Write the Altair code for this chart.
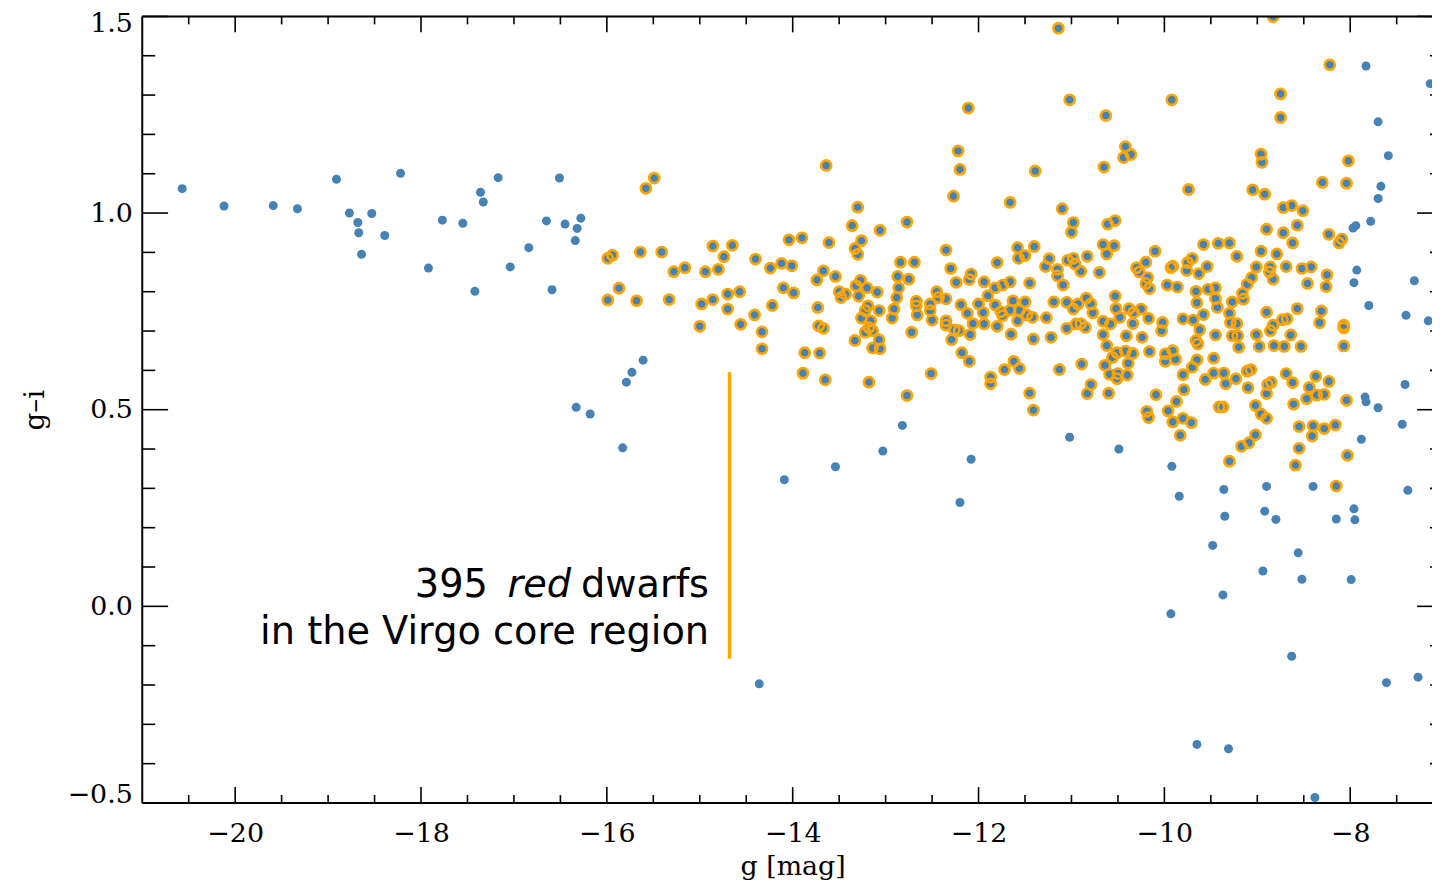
import altair as alt
import pandas as pd

# ---------------- data ----------------
# galaxies that are not red dwarfs (g [mag], g-i)
BLUE_ONLY = [
    (-20.57, 1.062), (-20.12, 1.018), (-19.59, 1.019), (-19.33, 1.011), (-18.91, 1.086),
    (-18.22, 1.101), (-18.77, 1.000), (-18.68, 0.976), (-18.67, 0.950), (-18.53, 0.999),
    (-18.39, 0.943), (-18.64, 0.895), (-17.92, 0.860), (-17.77, 0.982), (-17.55, 0.974),
    (-17.36, 1.053), (-17.33, 1.028), (-17.17, 1.090), (-17.42, 0.801), (-17.04, 0.863),
    (-16.84, 0.912), (-16.65, 0.980), (-16.45, 0.972), (-16.51, 1.089), (-16.28, 0.987),
    (-16.32, 0.961), (-16.34, 0.930), (-16.59, 0.805), (-16.33, 0.506), (-16.18, 0.489),
    (-15.61, 0.626), (-15.73, 0.595), (-15.79, 0.570), (-15.83, 0.403), (-14.09, 0.322),
    (-13.54, 0.355), (-14.36, -0.197), (-13.03, 0.395), (-12.82, 0.460), (-12.08, 0.374),
    (-12.20, 0.264), (-11.02, 0.430), (-10.49, 0.400), (-9.92, 0.356), (-9.84, 0.280),
    (-9.36, 0.297), (-9.35, 0.229), (-8.90, 0.305), (-8.92, 0.242), (-8.80, 0.221),
    (-8.40, 0.305), (-8.15, 0.222), (-7.96, 0.248), (-7.95, 0.220), (-7.38, 0.295),
    (-7.88, 0.425), (-7.44, 0.463), (-7.41, 0.564), (-7.84, 0.532), (-7.83, 0.520),
    (-7.70, 0.505), (-7.93, 0.855), (-7.96, 0.823), (-7.31, 0.828), (-7.80, 0.765),
    (-7.40, 0.740), (-7.16, 0.726), (-7.97, 0.962), (-7.94, 0.968), (-7.78, 0.979),
    (-7.70, 1.037), (-7.67, 1.068), (-7.59, 1.146), (-7.70, 1.232), (-7.83, 1.374),
    (-7.14, 1.329), (-9.48, 0.155), (-8.56, 0.136), (-8.94, 0.090), (-8.52, 0.069),
    (-7.99, 0.068), (-9.37, 0.029), (-9.93, -0.019), (-8.63, -0.127), (-7.61, -0.194),
    (-7.27, -0.180), (-9.65, -0.351), (-9.31, -0.362), (-8.38, -0.486),
]

# red dwarfs in the Virgo core region (g [mag], g-i)
RED_DWARFS = [
    (-15.49, 1.089), (-15.58, 1.063), (-13.64, 1.121), (-13.30, 1.015), (-13.36, 0.968),
    (-15.99, 0.885), (-15.94, 0.893), (-15.64, 0.901), (-15.41, 0.901), (-14.86, 0.916),
    (-14.65, 0.918), (-14.74, 0.889), (-14.04, 0.932), (-13.90, 0.937), (-13.61, 0.925),
    (-13.26, 0.930), (-13.33, 0.910), (-13.30, 0.895), (-14.40, 0.883), (-15.28, 0.851),
    (-15.16, 0.861), (-14.94, 0.851), (-14.80, 0.857), (-14.24, 0.860), (-14.12, 0.872),
    (-14.01, 0.866), (-13.67, 0.853), (-13.74, 0.830), (-13.54, 0.839), (-15.87, 0.809),
    (-15.99, 0.779), (-15.68, 0.777), (-15.33, 0.780), (-14.98, 0.769), (-14.86, 0.780),
    (-14.70, 0.794), (-14.57, 0.800), (-14.70, 0.756), (-14.41, 0.741), (-14.22, 0.765),
    (-14.10, 0.810), (-13.99, 0.797), (-15.00, 0.712), (-14.56, 0.717), (-14.33, 0.698),
    (-13.73, 0.760), (-13.72, 0.713), (-13.67, 0.707), (-13.50, 0.800), (-13.43, 0.794),
    (-13.48, 0.785), (-13.27, 0.829), (-13.32, 0.815), (-13.20, 0.810), (-13.29, 0.789),
    (-13.19, 0.764), (-13.22, 0.752), (-13.26, 0.733), (-13.16, 0.726), (-13.18, 0.709),
    (-13.22, 0.697), (-13.14, 0.701),
    (-12.22, 1.158), (-12.20, 1.111), (-12.27, 1.043), (-11.39, 1.107), (-11.66, 1.027),
    (-10.65, 1.117), (-10.42, 1.169), (-10.36, 1.149), (-10.44, 1.141), (-11.10, 1.011),
    (-10.98, 0.976), (-11.00, 0.951), (-10.61, 0.972), (-10.53, 0.981), (-12.77, 0.977),
    (-13.06, 0.956), (-12.35, 0.906), (-11.58, 0.912), (-11.40, 0.915), (-11.57, 0.885),
    (-11.50, 0.892), (-10.66, 0.920), (-10.54, 0.917), (-10.62, 0.896), (-10.10, 0.903),
    (-12.84, 0.875), (-12.69, 0.875), (-11.80, 0.874), (-12.30, 0.859), (-11.24, 0.884),
    (-11.28, 0.864), (-11.15, 0.857), (-11.04, 0.880), (-10.98, 0.885), (-10.96, 0.870),
    (-10.90, 0.852), (-10.83, 0.890), (-10.70, 0.849), (-10.20, 0.875), (-10.30, 0.861),
    (-10.27, 0.850), (-12.87, 0.839), (-12.75, 0.832), (-12.86, 0.810), (-12.08, 0.845),
    (-12.10, 0.831), (-12.24, 0.824), (-11.94, 0.825), (-11.82, 0.810), (-11.74, 0.817),
    (-11.66, 0.825), (-11.45, 0.822), (-11.15, 0.840), (-11.09, 0.817), (-10.18, 0.836),
    (-10.20, 0.821), (-10.16, 0.808), (-13.09, 0.799), (-12.88, 0.785), (-12.45, 0.800),
    (-12.43, 0.785), (-12.35, 0.782), (-11.90, 0.790), (-12.67, 0.776), (-12.67, 0.764),
    (-12.66, 0.741), (-12.52, 0.769), (-12.52, 0.752), (-12.50, 0.728), (-12.91, 0.756),
    (-12.93, 0.733), (-13.07, 0.752), (-12.19, 0.767), (-12.12, 0.745), (-12.06, 0.719),
    (-12.00, 0.769), (-11.95, 0.747), (-11.94, 0.718), (-12.35, 0.726), (-12.35, 0.715),
    (-12.26, 0.703), (-12.21, 0.701), (-11.82, 0.766), (-11.76, 0.749), (-11.74, 0.739),
    (-11.63, 0.777), (-11.66, 0.753), (-11.56, 0.752), (-11.50, 0.774), (-11.58, 0.726),
    (-11.48, 0.741), (-11.42, 0.735), (-11.80, 0.712), (-12.09, 0.691), (-11.65, 0.692),
    (-11.27, 0.734), (-11.19, 0.774), (-11.05, 0.773), (-10.98, 0.756), (-10.93, 0.769),
    (-10.84, 0.784), (-10.79, 0.769), (-10.77, 0.746), (-11.05, 0.707), (-10.95, 0.718),
    (-10.90, 0.719), (-10.85, 0.709), (-10.66, 0.725), (-10.58, 0.718), (-10.66, 0.691),
    (-10.53, 0.789), (-10.52, 0.757), (-10.48, 0.735), (-10.38, 0.757), (-10.33, 0.747),
    (-10.25, 0.756), (-10.34, 0.719), (-10.17, 0.732), (-10.41, 0.688), (-10.24, 0.684),
    (-12.72, 0.697), (-11.22, 0.684), (-11.41, 0.680), (-12.29, 0.678),
    (-8.96, 1.150), (-8.95, 1.129), (-8.02, 1.133), (-8.30, 1.078), (-8.04, 1.076),
    (-9.74, 1.060), (-9.05, 1.059), (-8.92, 1.048), (-8.72, 1.014), (-8.63, 1.019),
    (-8.51, 1.006), (-8.57, 0.969), (-8.90, 0.959), (-8.72, 0.950), (-8.62, 0.924),
    (-8.23, 0.946), (-8.09, 0.934), (-8.12, 0.924), (-9.58, 0.920), (-9.42, 0.923),
    (-9.30, 0.924), (-9.22, 0.890), (-8.96, 0.903), (-8.79, 0.896), (-9.75, 0.874),
    (-9.70, 0.885), (-9.76, 0.854), (-9.63, 0.846), (-9.54, 0.864), (-9.93, 0.861),
    (-9.91, 0.865), (-9.01, 0.863), (-8.86, 0.863), (-8.87, 0.850), (-8.83, 0.832),
    (-8.69, 0.864), (-8.52, 0.859), (-8.42, 0.863), (-8.25, 0.843), (-8.26, 0.813),
    (-8.46, 0.821), (-9.97, 0.817), (-9.86, 0.812), (-9.66, 0.801), (-9.53, 0.806),
    (-9.45, 0.810), (-9.65, 0.772), (-9.45, 0.782), (-9.43, 0.760), (-9.27, 0.774),
    (-9.16, 0.796), (-9.06, 0.836), (-9.11, 0.819), (-9.15, 0.781), (-9.80, 0.731),
    (-9.69, 0.728), (-9.58, 0.742), (-9.62, 0.703), (-10.02, 0.722), (-10.03, 0.701),
    (-9.30, 0.745), (-9.29, 0.722), (-9.22, 0.719), (-8.90, 0.748), (-8.57, 0.757),
    (-8.31, 0.751), (-8.33, 0.721), (-8.73, 0.729), (-8.68, 0.731), (-8.83, 0.715),
    (-8.86, 0.701), (-8.07, 0.715), (-8.07, 0.708), (-9.45, 0.690), (-9.27, 0.688),
    (-9.21, 0.688), (-9.01, 0.691), (-8.64, 0.690), (-9.66, 0.676),
    (-11.14, 1.470), (-8.83, 1.499), (-8.22, 1.377), (-8.75, 1.303), (-8.75, 1.243),
    (-12.11, 1.267), (-11.02, 1.288), (-10.63, 1.248), (-9.92, 1.288),
    (-14.33, 0.655), (-13.87, 0.645), (-13.71, 0.644), (-13.89, 0.593), (-13.65, 0.576),
    (-13.33, 0.676), (-13.14, 0.657), (-13.18, 0.570),
    (-13.06, 0.655), (-13.07, 0.678), (-12.18, 0.645), (-12.10, 0.623), (-12.51, 0.592),
    (-12.77, 0.536), (-11.87, 0.583), (-11.87, 0.566), (-11.72, 0.602), (-11.62, 0.623),
    (-11.56, 0.605), (-11.45, 0.542), (-11.41, 0.499), (-11.13, 0.602), (-10.89, 0.616),
    (-10.79, 0.564), (-10.83, 0.541), (-10.60, 0.542), (-10.62, 0.663), (-10.64, 0.613),
    (-10.56, 0.633), (-10.51, 0.645), (-10.42, 0.649), (-10.34, 0.643), (-10.39, 0.618),
    (-10.59, 0.590), (-10.50, 0.592), (-10.51, 0.579), (-10.40, 0.588),
    (-9.20, 0.659), (-8.98, 0.661), (-8.82, 0.663), (-8.71, 0.661), (-8.53, 0.661),
    (-8.07, 0.662), (-10.16, 0.648), (-9.99, 0.642), (-9.91, 0.650), (-9.88, 0.628),
    (-9.99, 0.623), (-9.64, 0.667), (-9.65, 0.627), (-9.70, 0.608), (-9.80, 0.589),
    (-9.47, 0.631), (-9.56, 0.577), (-9.47, 0.593), (-9.36, 0.593), (-9.34, 0.566),
    (-9.23, 0.579), (-9.11, 0.598), (-9.07, 0.602), (-9.10, 0.556), (-8.89, 0.564),
    (-8.85, 0.570), (-8.90, 0.541), (-8.69, 0.592), (-8.62, 0.569), (-8.37, 0.585),
    (-8.23, 0.572), (-8.44, 0.557), (-8.47, 0.528), (-8.36, 0.537), (-8.28, 0.539),
    (-10.09, 0.538), (-9.79, 0.551), (-9.87, 0.521), (-9.96, 0.497), (-9.91, 0.469),
    (-9.80, 0.478), (-9.71, 0.467), (-9.83, 0.435), (-10.17, 0.480), (-10.19, 0.496),
    (-9.41, 0.507), (-9.37, 0.507), (-9.02, 0.511), (-8.96, 0.489), (-8.90, 0.478),
    (-8.61, 0.514), (-8.04, 0.524), (-8.55, 0.457), (-8.40, 0.459), (-8.41, 0.433),
    (-8.28, 0.452), (-8.16, 0.461), (-9.02, 0.436), (-9.09, 0.416), (-9.17, 0.407),
    (-8.55, 0.402), (-9.30, 0.369), (-8.59, 0.359), (-8.03, 0.384), (-8.15, 0.306),
]

X_MAJOR = [-20, -18, -16, -14, -12, -10, -8]
X_MINOR = [-20.5, -19.5, -19, -18.5, -17.5, -17, -16.5, -15.5, -15, -14.5,
           -13.5, -13, -12.5, -11.5, -11, -10.5, -9.5, -9, -8.5, -7.5]
Y_MAJOR = [-0.5, 0.0, 0.5, 1.0, 1.5]
Y_MINOR = [-0.4, -0.3, -0.2, -0.1, 0.1, 0.2, 0.3, 0.4, 0.6, 0.7, 0.8, 0.9,
           1.1, 1.2, 1.3, 1.4]

ANNOT_LINE = [{"g": -14.68, "top": 0.595, "bottom": -0.133}]
ANNOT_TEXT = [
    {"t": "395", "g": -17.28, "gi": 0.024},
    {"t": "dwarfs", "g": -14.90, "gi": 0.024},
    {"t": "in the Virgo core region", "g": -14.90, "gi": -0.095},
]
ANNOT_ITALIC = [{"t": "red", "g": -17.07, "gi": 0.024}]

# ---------------- chart ----------------
W, H = 1297, 791
BLUE = "#4682b4"
ORANGE = "#ffa500"
SERIF = "DejaVu Serif"

xs = alt.Scale(domain=[-21, -7.12], nice=False, zero=False)
ys = alt.Scale(domain=[-0.5, 1.5], nice=False, zero=False)

xaxis = alt.Axis(values=X_MAJOR, ticks=False, domain=False, grid=False,
                 labelFont=SERIF, labelFontSize=27, labelColor="black",
                 labelPadding=18, labelFlush=False,
                 labelExpr="replace(format(datum.value, 'd'), '-', '\u2212')",
                 title="g [mag]", titleFont=SERIF, titleFontSize=27,
                 titleFontWeight="normal", titleColor="black",
                 titleX=654, titleY=72, titleAlign="center",
                 titleBaseline="alphabetic")
yaxis = alt.Axis(values=Y_MAJOR, ticks=False, domain=False, grid=False,
                 labelFont=SERIF, labelFontSize=27, labelColor="black",
                 labelPadding=10, labelFlush=True, labelFlushOffset=6,
                 labelExpr="replace(format(datum.value, '.1f'), '-', '\u2212')",
                 title="g\u2013i", titleFont=SERIF, titleFontSize=28,
                 titleFontWeight="normal", titleColor="black",
                 titleX=-107, titleY=H / 2, titleAngle=270,
                 titleAlign="center", titleBaseline="middle")


def X(field="g"):
    return alt.X(f"{field}:Q", scale=xs, axis=xaxis)


def Y(field="gi"):
    return alt.Y(f"{field}:Q", scale=ys, axis=yaxis)


all_df = pd.DataFrame(BLUE_ONLY + RED_DWARFS, columns=["g", "gi"])
red_df = pd.DataFrame(RED_DWARFS, columns=["g", "gi"])

dots = alt.Chart(all_df).mark_circle(size=82, color=BLUE, opacity=1, clip=True).encode(
    x=X(), y=Y())
rings = alt.Chart(red_df).mark_point(shape="circle", filled=False, color=ORANGE,
                                     strokeWidth=2.6, size=104, opacity=1,
                                     clip=True).encode(x=X(), y=Y())

layers = [dots, rings]


# inward-pointing ticks on all four sides
def xticks(vals, length):
    d = pd.DataFrame({"g": vals})
    bot = alt.Chart(d).mark_rule(color="black", strokeWidth=1.6).encode(
        x=X(), y=alt.value(H), y2=alt.value(H - length))
    top = alt.Chart(d).mark_rule(color="black", strokeWidth=1.6).encode(
        x=X(), y=alt.value(0), y2=alt.value(length))
    return [bot, top]


def yticks(vals, length):
    d = pd.DataFrame({"gi": vals})
    left = alt.Chart(d).mark_rule(color="black", strokeWidth=1.6).encode(
        y=Y(), x=alt.value(0), x2=alt.value(length))
    right = alt.Chart(d).mark_rule(color="black", strokeWidth=1.6).encode(
        y=Y(), x=alt.value(W + 11), x2=alt.value(W + 11 - length))
    return [left, right]


layers += xticks(X_MAJOR, 16) + xticks(X_MINOR, 8)
layers += yticks(Y_MAJOR, 26) + yticks(Y_MINOR, 13)

one = pd.DataFrame({"a": [0]})
frame_left = alt.Chart(one).mark_rule(color="black", strokeWidth=2).encode(
    x=alt.value(0), y=alt.value(0), y2=alt.value(H))
frame_top = alt.Chart(one).mark_rule(color="black", strokeWidth=2).encode(
    y=alt.value(0), x=alt.value(0), x2=alt.value(W))
frame_bot = alt.Chart(one).mark_rule(color="black", strokeWidth=2).encode(
    y=alt.value(H), x=alt.value(0), x2=alt.value(W))
layers += [frame_left, frame_top, frame_bot]

# annotation
line = alt.Chart(pd.DataFrame(ANNOT_LINE)).mark_rule(color=ORANGE, strokeWidth=3.5).encode(
    x=X(), y=Y("top"), y2="bottom:Q")
txt = alt.Chart(pd.DataFrame(ANNOT_TEXT)).mark_text(
    font="DejaVu Sans", fontSize=38.5, align="right", baseline="alphabetic",
    color="black").encode(x=X(), y=Y(), text="t:N")
txt_it = alt.Chart(pd.DataFrame(ANNOT_ITALIC)).mark_text(
    font="DejaVu Sans", fontSize=38.5, fontStyle="italic", align="left",
    baseline="alphabetic", color="black").encode(x=X(), y=Y(), text="t:N")
layers += [line, txt, txt_it]

chart = alt.layer(*layers).properties(
    width=W, height=H,
    padding={"left": 135, "top": 6, "right": 0, "bottom": 78},
    autosize=alt.AutoSizeParams(type="none"),
    background="white",
).configure_view(strokeWidth=0)

chart.save("out.html", embed_options={"renderer": "svg", "actions": False})
